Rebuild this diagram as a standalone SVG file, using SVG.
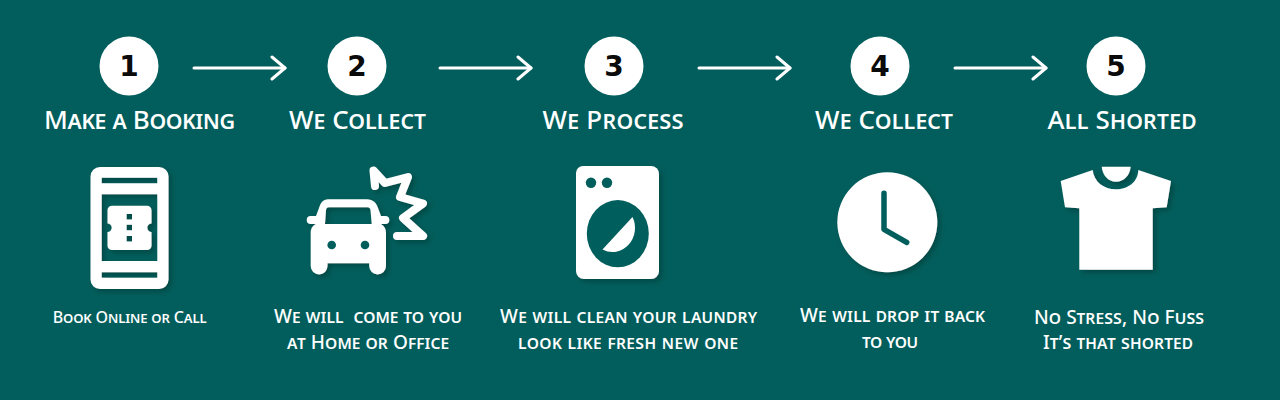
<svg xmlns="http://www.w3.org/2000/svg" width="1280" height="400" viewBox="0 0 1280 400">
<style>
text{font-family:"Noto Sans","Liberation Sans",sans-serif;fill:#fff;text-anchor:middle;font-variant:small-caps;font-weight:500}
.t{font-size:26px}
.d{font-size:19px}
.s{font-size:16px}
.n{font-family:"DejaVu Sans",sans-serif;font-variant:normal;font-weight:bold;font-size:28px;fill:#0b0b0b}
.a{fill:none;stroke:#fff;stroke-width:3;stroke-linecap:round;stroke-linejoin:round}
.bg{fill:#025e5c}
.w{fill:#fff}
</style>
<defs>
<filter id="sh" x="-20%" y="-20%" width="140%" height="140%"><feDropShadow dx="3" dy="3" stdDeviation="2.500" flood-color="#013c3b" flood-opacity=".65"/></filter>
<marker id="ah" markerUnits="userSpaceOnUse" markerWidth="18" markerHeight="28" refX="15" refY="14" orient="auto"><path d="M2 3L15 14L2 25" class="a"/></marker>
</defs>
<rect width="1280" height="400" class="bg"/>
<g id="connectors">
<path class="a" d="M194 68H285" marker-end="url(#ah)"/>
<path class="a" d="M440 68H531" marker-end="url(#ah)"/>
<path class="a" d="M699 68H790" marker-end="url(#ah)"/>
<path class="a" d="M955 68H1046" marker-end="url(#ah)"/>
</g>
<g id="step1">
<circle cx="129" cy="66" r="29.500" class="w"/><text x="129" y="76" class="n">1</text>
<text x="139.500" y="129" class="t" textLength="191">Make a Booking</text>
<g filter="url(#sh)"><path class="w" fill-rule="evenodd" d="M100 167H159a9.500 9.500 0 0 1 9.500 9.500V279.500a9.500 9.500 0 0 1-9.500 9.500H100a9.500 9.500 0 0 1-9.500-9.500V176.500a9.500 9.500 0 0 1 9.500-9.500ZM101.700 177.700V183.300H157.300V177.700ZM101.700 194.300V261H157.300V194.300ZM101.700 272.300V277.700H157.300V272.300Z"/>
<path class="w" fill-rule="evenodd" d="M112 205.700H147a4.500 4.500 0 0 1 4.500 4.500V223.500a4.200 4.200 0 0 0 0 8.400V245.500a4.500 4.500 0 0 1-4.500 4.500H112a4.500 4.500 0 0 1-4.500-4.500V231.900a4.200 4.200 0 0 0 0-8.400V210.200a4.500 4.500 0 0 1 4.500-4.500ZM126.600 214V219.500H132V214ZM126.600 224.700V230.200H132V224.700ZM126.600 236V241.500H132V236Z"/></g>
<text x="129.700" y="323" class="s" textLength="154">Book Online or Call</text>
</g>
<g id="step2">
<circle cx="357" cy="66" r="29.500" class="w"/><text x="357" y="76" class="n">2</text>
<text x="357.500" y="129" class="t" textLength="137">We Collect</text>
<g filter="url(#sh)"><path class="w" fill-rule="evenodd" d="M328 199.300H367C373 199.300 376.500 203 378 208L381 216H385.300a4 4 0 0 1 0 8H381C384.500 226 386 229 386 233V266a8.300 8.300 0 0 1-16.800 0V263.300H327.500V266a8.300 8.300 0 0 1-16.800 0V233C310.700 229 312 226 316 224H310.700a4 4 0 0 1 0-8H316L319 208C320.500 203 323 199.300 328 199.300ZM329 207.300C327 207.300 326.300 208.500 326 210L325 224H371.700L370.500 210C370.200 208.500 369.500 207.300 367.500 207.300Z"/>
<circle cx="331.700" cy="245" r="4.300" class="bg"/><circle cx="365" cy="245" r="4.300" class="bg"/>
<path stroke="#fff" stroke-width="8" stroke-linecap="round" stroke-linejoin="round" fill="none" d="M375 186L373.500 170.500L385 183L408 177L400 197L423 203.500L403 218L423 236H397"/></g>
<text x="368" y="323" class="d" textLength="188" xml:space="preserve">We will  come to you</text>
<text x="368" y="349" class="d" textLength="162">at Home or Office</text>
</g>
<g id="step3">
<circle cx="614" cy="66" r="29.500" class="w"/><text x="614" y="76" class="n">3</text>
<text x="613" y="129" class="t" textLength="141">We Process</text>
<g filter="url(#sh)"><path class="w" d="M583 166H651a8 8 0 0 1 8 8V271a8 8 0 0 1-8 8H584a8 8 0 0 1-8-8V173a7 7 0 0 1 7-7Z"/>
<circle cx="591" cy="182.700" r="5.200" class="bg"/><circle cx="607" cy="182.700" r="5.200" class="bg"/>
<ellipse cx="617.800" cy="233.700" rx="31" ry="33.600" class="bg"/>
<path class="w" d="M602.500 249.500L632.500 217A22.500 24 0 0 1 602.500 249.500Z"/></g>
<text x="628.500" y="323" class="d" textLength="257">We will clean your laundry</text>
<text x="628" y="349" class="d" textLength="220">look like fresh new one</text>
</g>
<g id="step4">
<circle cx="880" cy="66" r="29.500" class="w"/><text x="880" y="76" class="n">4</text>
<text x="884" y="129" class="t" textLength="138">We Collect</text>
<g filter="url(#sh)"><circle cx="887.300" cy="222.300" r="50" class="w"/>
<path fill="none" stroke="#025e5c" stroke-width="5.500" stroke-linecap="round" stroke-linejoin="round" d="M884 193.300V229.300L906.700 242.300"/></g>
<text x="892.500" y="322" class="d" textLength="185">We will drop it back</text>
<text x="890" y="348" class="d" textLength="56">to you</text>
</g>
<g id="step5">
<circle cx="1116" cy="66" r="29.500" class="w"/><text x="1116" y="76" class="n">5</text>
<text x="1122" y="129" class="t" textLength="149">All Shorted</text>
<g filter="url(#sh)"><path class="w" d="M1092.700 170C1094 182 1104 189.300 1116 189.300C1128 189.300 1138 182 1138.300 170L1171 181L1166.700 207.300L1152.700 208.300V269.700H1079.300V208.300L1065 207.300L1060.700 181Z"/>
<path class="w" d="M1101.700 166.700H1130.700C1130 175 1124 181.700 1116 181.700C1108 181.700 1102.400 175 1101.700 166.700Z"/></g>
<text x="1119" y="324" class="d" textLength="170">No Stress, No Fuss</text>
<text x="1118" y="349" class="d" textLength="150">It’s that shorted</text>
</g>
</svg>
